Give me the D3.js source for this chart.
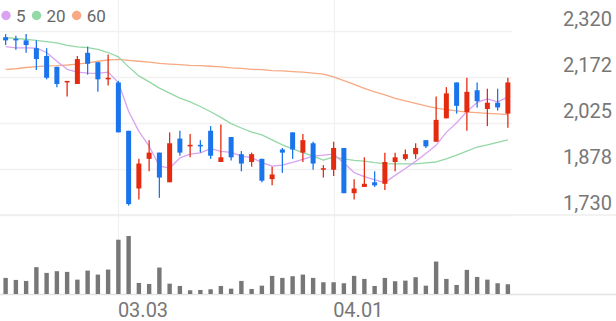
<!DOCTYPE html>
<html>
<head>
<meta charset="utf-8">
<script src="https://cdn.jsdelivr.net/npm/d3@7"></script>
<style>
  body { margin: 0; background: #fff; }
  svg { display: block; font-family: Roboto, "Noto Sans", sans-serif; }
</style>
</head>
<body>
<div id="chart"></div>
<script>
// trading days shown (MM.DD)
const dates = ["02.10","02.11","02.12","02.13","02.19","02.20","02.23","02.24","02.25","02.26","02.27",
  "03.03","03.04","03.05","03.06","03.09","03.10","03.11","03.12","03.13","03.16","03.17","03.18","03.19","03.20",
  "03.23","03.24","03.25","03.26","03.27","03.30","03.31",
  "04.01","04.02","04.03","04.06","04.07","04.08","04.09","04.10","04.13","04.14","04.15","04.16","04.17",
  "04.20","04.21","04.22","04.23","04.24"];

const opens = [2300,2295,2290,2265,2240,2205,2155,2150,2250,2220,2165,2155,2000,1815,1910,1930,1835,1975,1950,1955,
  2000,1900,1980,1925,1900,1910,1845,1940,1995,1930,1960,1875,1875,1945,1800,1820,1835,1830,1900,1910,
  1925,1970,1965,2040,2155,2060,2130,2070,2090,2055];
const highs = [2310,2305,2310,2290,2265,2205,2160,2240,2270,2220,2245,2160,2000,1910,1970,1930,1995,2000,1990,1970,
  2015,2020,1980,1935,1930,1910,1885,1945,1995,1990,1965,1890,1965,1945,1845,1915,1870,1930,1930,1940,
  1960,1970,2110,2140,2155,2170,2155,2135,2135,2170];
const lows = [2275,2260,2250,2195,2165,2140,2110,2150,2180,2125,2145,1995,1760,1780,1870,1785,1835,1920,1915,1930,
  1910,1900,1905,1870,1885,1835,1825,1865,1910,1900,1875,1850,1855,1800,1780,1820,1820,1810,1870,1905,
  1910,1945,1965,2040,2055,2000,2075,2015,2065,2010];
const closes = [2290,2290,2275,2230,2170,2150,2160,2230,2215,2165,2170,1995,1765,1895,1930,1850,1960,1930,1955,1950,
  1920,1915,1915,1895,1925,1840,1860,1930,1940,1970,1895,1880,1945,1800,1815,1830,1825,1900,1915,1925,
  1945,1950,2035,2120,2080,2125,2095,2090,2075,2155];
const volumes = [160,140,130,267,210,227,220,143,233,193,243,540,577,110,100,263,103,80,37,40,
  47,80,53,130,50,83,180,160,177,193,160,117,117,107,180,150,80,160,127,133,
  167,83,323,150,90,240,170,143,107,97];

const ma5 = [2270,2266,2266,2265,2251,2223,2197,2188,2185,2184,2188,2155,2062,1998,1951,1887,1880,1913,1925,1929,
  1943,1934,1931,1919,1914,1898,1887,1890,1899,1908,1919,1922,1925,1897,1866,1853,1843,1834,1857,1879,
  1902,1927,1954,1995,2026,2062,2091,2102,2093,2108];
const ma20 = [2299,2296,2293,2290,2286,2282,2274,2269,2267,2261,2251,2237,2205,2176,2157,2137,2121,2105,2093,2078,
  2061,2043,2023,2009,1996,1987,1971,1955,1942,1930,1919,1906,1916,1910,1905,1903,1898,1895,1894,1894,
  1894,1897,1900,1910,1922,1935,1948,1955,1963,1971];
const ma60 = [2197,2199,2203,2206,2208,2209,2211,2214,2218,2223,2227,2229,2226,2223,2220,2216,2214,2212,2210,2209,
  2207,2205,2202,2200,2197,2196,2193,2192,2190,2188,2185,2182,2173,2161,2149,2136,2125,2115,2104,2096,
  2088,2080,2073,2068,2064,2060,2058,2056,2054,2052];

const maLabels = ["5", "20", "60"];
const maColors = ["#d9a3f2", "#93d8a5", "#f7a983"];

const yTicks = [2320, 2172.5, 2025, 1877.5, 1730];
const yTickLabels = ["2,320", "2,172", "2,025", "1,878", "1,730"];
const xTickDates = ["03.03", "04.01"];

const upColor = "#e42b10",
      downColor = "#1a74ec",
      gridColor = "#f1f1f1",
      textColor = "#777";

const W = 616, H = 321;
const plotRight = 513,
      priceTop = 31, priceBottom = 215,
      volBottom = 294, volTop = 236;

const svg = d3.select("#chart").append("svg")
  .attr("width", W)
  .attr("height", H);

const x = d3.scaleBand()
  .domain(dates)
  .range([0.5, plotRight])
  .padding(0);
const cx = function(d){ return x(d) + x.bandwidth() / 2; };

const y = d3.scaleLinear()
  .domain([1730, 2320])
  .range([priceBottom, priceTop]);

const yVol = d3.scaleLinear()
  .domain([0, d3.max(volumes)])
  .range([volBottom, volTop]);

// horizontal grid
svg.append("g")
  .attr("class", "grid")
  .call(d3.axisRight(y).tickValues(yTicks).tickSize(plotRight - 1).tickFormat(""))
  .call(function(g){ g.select(".domain").remove(); })
  .selectAll("line")
    .attr("stroke", gridColor)
    .attr("stroke-width", 1.3);

// vertical grid at month starts
svg.append("g")
  .selectAll("line")
  .data(xTickDates)
  .join("line")
    .attr("x1", function(d){ return Math.round(cx(d)) + 0.5; })
    .attr("x2", function(d){ return Math.round(cx(d)) + 0.5; })
    .attr("y1", 0)
    .attr("y2", volBottom)
    .attr("stroke", "#f0f0f0")
    .attr("stroke-width", 1.2);

// price panel bottom and volume baseline
svg.append("line")
  .attr("x1", 0).attr("x2", W)
  .attr("y1", y(1730)).attr("y2", y(1730))
  .attr("stroke", "#eeeeee")
  .attr("stroke-width", 1.3);
svg.append("line")
  .attr("x1", 0).attr("x2", W)
  .attr("y1", volBottom + 0.5).attr("y2", volBottom + 0.5)
  .attr("stroke", "#e3e3e3")
  .attr("stroke-width", 1.5);

// y labels
const yAxis = svg.append("g")
  .attr("transform", "translate(612,0)")
  .call(d3.axisLeft(y).tickValues(yTicks).tickSize(0).tickPadding(0)
    .tickFormat(function(d, i){ return yTickLabels[i]; }));
yAxis.select(".domain").remove();
yAxis.selectAll("text")
  .attr("dy", 0)
  .attr("y", -5.5)
  .attr("fill", textColor)
  .style("font-size", "20px")
  .style("font-family", "Roboto");

// x labels
const xAxis = svg.append("g")
  .attr("transform", "translate(0," + volBottom + ")")
  .call(d3.axisBottom(x).tickValues(xTickDates).tickSize(0).tickPadding(0));
xAxis.select(".domain").remove();
xAxis.selectAll("text")
  .attr("text-anchor", "start")
  .attr("dy", 0)
  .attr("x", -0.5)
  .attr("y", 23)
  .attr("fill", textColor)
  .style("font-size", "20px")
  .style("font-family", "Roboto");

// moving averages
const maSeries = [ma60, ma20, ma5];
const maSeriesColors = [maColors[2], maColors[1], maColors[0]];
const line = d3.line()
  .x(function(v, i){ return cx(dates[i]); })
  .y(function(v){ return y(v); });

svg.append("g")
  .selectAll("path")
  .data(maSeries)
  .join("path")
    .attr("fill", "none")
    .attr("stroke", function(d, i){ return maSeriesColors[i]; })
    .attr("stroke-width", 1.3)
    .attr("stroke-linejoin", "round")
    .attr("d", line);

// candles
const candles = svg.append("g")
  .selectAll("g")
  .data(dates)
  .join("g");

const colorOf = function(i){ return closes[i] > opens[i] ? upColor : downColor; };

candles.append("line")
  .attr("x1", function(d){ return cx(d); })
  .attr("x2", function(d){ return cx(d); })
  .attr("y1", function(d, i){ return y(highs[i]); })
  .attr("y2", function(d, i){ return y(lows[i]); })
  .attr("stroke", function(d, i){ return colorOf(i); })
  .attr("stroke-width", 1.3);

candles.append("rect")
  .attr("x", function(d){ return cx(d) - 2.5; })
  .attr("width", 5)
  .attr("y", function(d, i){ return y(Math.max(opens[i], closes[i])); })
  .attr("height", function(d, i){
    return Math.max(1.5, Math.abs(y(opens[i]) - y(closes[i])));
  })
  .attr("fill", function(d, i){ return colorOf(i); });

// volume bars
svg.append("g")
  .selectAll("rect")
  .data(volumes)
  .join("rect")
    .attr("x", function(d, i){ return cx(dates[i]) - 2.2; })
    .attr("width", 4.4)
    .attr("y", function(d){ return yVol(d); })
    .attr("height", function(d){ return volBottom - yVol(d); })
    .attr("fill", "#777");

// legend
const legend = svg.append("g");
let lx = 6;
maLabels.forEach(function(lab, i){
  legend.append("circle")
    .attr("cx", lx)
    .attr("cy", 15.5)
    .attr("r", 4.7)
    .attr("fill", maColors[i]);
  const t = legend.append("text")
    .attr("x", lx + 10)
    .attr("y", 21.5)
    .attr("fill", "#666")
    .style("font-size", "17px")
    .text(lab);
  lx = lx + 10 + t.node().getComputedTextLength() + 11;
});
</script>
</body>
</html>
